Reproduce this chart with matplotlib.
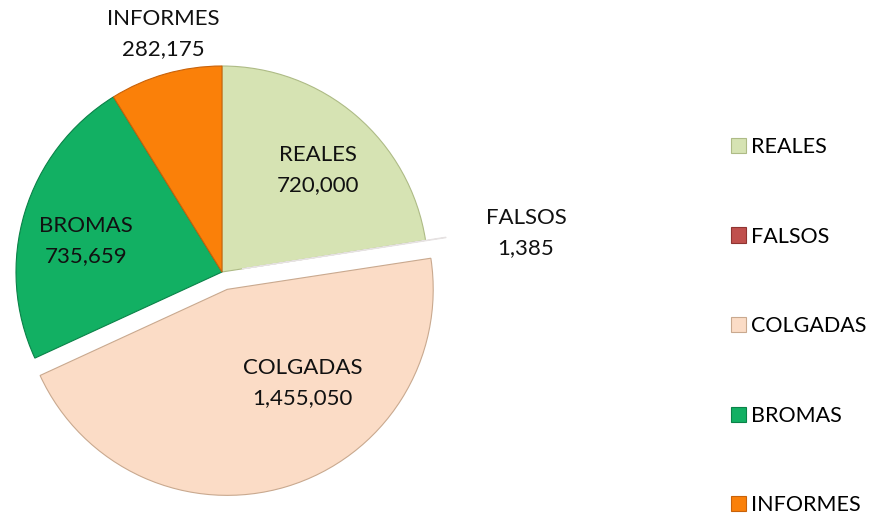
import numpy as np
import matplotlib.pyplot as plt
from matplotlib.patches import Patch

categories = ["REALES", "FALSOS", "COLGADAS", "BROMAS", "INFORMES"]
values = [720000, 1385, 1455050, 735659, 282175]
colors = ["#d6e3b3", "#c0504d", "#fbdcc6", "#12b063", "#fa8009"]
edges = ["#aebb86", "#8f3431", "#c9a98f", "#0a8248", "#c8620a"]
explode = [0, 0.1, 0.088, 0, 0]

plt.rcParams["font.family"] = ["Lato", "DejaVu Sans"]

W, H = 873, 516
fig = plt.figure(figsize=(W / 100, H / 100), dpi=100)

# pie centre (222, 272) px, radius 206 px
r_px = 206
lim = 1.1
ax = fig.add_axes([(222 - lim * r_px) / W, (H - 272 - lim * r_px) / H,
                   2 * lim * r_px / W, 2 * lim * r_px / H])

wedges, _ = ax.pie(values, colors=colors, explode=explode, startangle=90,
                   counterclock=False, radius=1.0,
                   wedgeprops=dict(linewidth=0.8))
for w, ec in zip(wedges, edges):
    w.set_edgecolor(ec)
# the tiny FALSOS sliver shows up as a faint light streak in the original
wedges[1].set_edgecolor("#e6e2e2")
wedges[1].set_facecolor("#eeeaea")
ax.set_xlim(-lim, lim)
ax.set_ylim(-lim, lim)
ax.set_aspect("equal")
ax.axis("off")

# label placement (data units relative to pie centre)
label_pos = {
    "REALES": (0.466, 0.495),
    "FALSOS": (1.476, 0.19),
    "COLGADAS": (0.39, -0.54),
    "BROMAS": (-0.66, 0.15),
    "INFORMES": (-0.286, 1.155),
}
for cat, val in zip(categories, values):
    x, y = label_pos[cat]
    ax.text(x, y, f"{cat}\n{val:,}", ha="center", va="center",
            fontsize=16, linespacing=1.6, color="#111111", clip_on=False)

handles = [Patch(facecolor=c, edgecolor=e, linewidth=0.8) for c, e in zip(colors, edges)]
fig.legend(handles, categories, loc="upper left", bbox_to_anchor=(731 / W, 1 - 137 / H),
           frameon=False, fontsize=15.5, handlelength=0.7, handleheight=0.7,
           handletextpad=0.25, labelspacing=3.23, borderaxespad=0, borderpad=0)

fig.savefig("out.png", dpi=100)
